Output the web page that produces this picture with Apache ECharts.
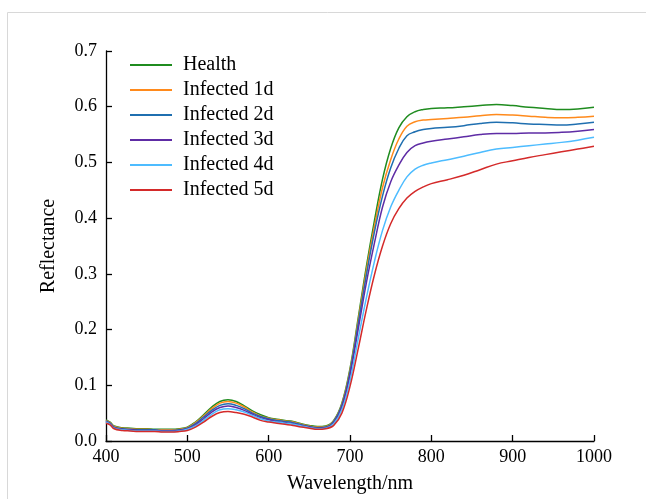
<!DOCTYPE html>
<html>
<head>
<meta charset="utf-8">
<script src="https://cdn.jsdelivr.net/npm/echarts@6/dist/echarts.min.js"></script>
<style>html,body{margin:0;padding:0;background:#fff;}#c{width:646px;height:499px;}</style>
</head>
<body>
<div id="c"></div>
<script>
const wavelengths = [400,405,410,420,430,440,450,460,470,480,490,500,510,520,530,540,550,560,570,580,590,600,610,620,630,640,650,660,670,680,690,700,710,720,730,740,750,760,770,780,790,800,820,840,860,880,900,920,940,960,980,1000];
const health = [.038,.034,.027,.024,.023,.022,.022,.021,.021,.021,.022,.025,.034,.047,.061,.071,.074,.071,.063,.054,.047,.042,.039,.037,.035,.031,.028,.026,.027,.037,.068,.130,.220,.312,.395,.470,.525,.562,.582,.591,.595,.597,.598,.600,.602,.604,.602,.599,.597,.595,.596,.599];
const inf1 = [.037,.033,.026,.023,.022,.021,.021,.020,.020,.020,.021,.024,.033,.045,.058,.068,.071,.068,.061,.052,.045,.041,.038,.036,.034,.030,.027,.025,.026,.036,.066,.127,.215,.305,.385,.455,.505,.542,.565,.573,.576,.577,.579,.581,.584,.586,.585,.583,.581,.580,.581,.583];
const inf2 = [.036,.032,.025,.022,.021,.020,.020,.020,.019,.019,.020,.023,.031,.043,.055,.064,.067,.064,.058,.050,.044,.040,.037,.035,.033,.029,.026,.024,.025,.035,.064,.124,.210,.297,.375,.440,.490,.525,.548,.555,.559,.561,.563,.566,.570,.572,.571,.569,.568,.567,.569,.572];
const inf3 = [.035,.031,.024,.021,.020,.019,.019,.019,.018,.018,.019,.022,.029,.040,.052,.060,.063,.060,.055,.048,.042,.038,.035,.033,.031,.028,.025,.023,.024,.033,.061,.118,.200,.283,.355,.420,.465,.495,.518,.530,.535,.538,.542,.546,.550,.552,.552,.553,.553,.554,.556,.559];
const inf4 = [.034,.030,.023,.020,.019,.018,.018,.018,.017,.017,.018,.021,.027,.037,.048,.056,.058,.056,.052,.046,.040,.036,.034,.032,.030,.027,.024,.022,.023,.031,.056,.108,.183,.256,.322,.378,.420,.450,.474,.488,.495,.499,.505,.511,.518,.524,.527,.530,.533,.536,.540,.545];
const inf5 = [.032,.029,.022,.019,.018,.017,.017,.017,.016,.016,.017,.019,.025,.034,.044,.051,.053,.051,.048,.043,.037,.034,.032,.030,.028,.025,.023,.021,.022,.028,.050,.098,.165,.235,.298,.350,.390,.417,.436,.448,.456,.462,.469,.477,.487,.497,.503,.509,.514,.519,.524,.529];
const seriesNames = ['Health','Infected 1d','Infected 2d','Infected 3d','Infected 4d','Infected 5d'];
const seriesData = [health, inf1, inf2, inf3, inf4, inf5];
const colors = ['#1f8c1f','#ff8a1c','#1f6fb0','#5e2ca5','#4dbcff','#d42a2a'];
const xTicks = [400,500,600,700,800,900,1000];
const yTicks = [0,0.1,0.2,0.3,0.4,0.5,0.6,0.7];

const font = 'Liberation Serif';
const chart = echarts.init(document.getElementById('c'));
chart.setOption({
  animation: false,
  backgroundColor: '#fff',
  color: colors,
  graphic: [{type:'rect', left:5, top:10, shape:{width:700, height:600}, style:{fill:'none', stroke:'#d8d8d8', lineWidth:1}, silent:true}],
  grid: {left:106, right:52, top:51, bottom:54},
  legend: {
    orient:'vertical', left:125, top:50, itemWidth:42, itemHeight:2, itemGap:5, icon:'rect',
    textStyle:{fontFamily:font, fontSize:20, color:'#000', padding:[0,0,0,6]},
    data: seriesNames
  },
  xAxis: {
    type:'value', min:xTicks[0], max:xTicks[xTicks.length-1], interval:100,
    name:'Wavelength/nm', nameLocation:'middle', nameGap:33,
    nameTextStyle:{fontFamily:font, fontSize:20, color:'#000'},
    axisLine:{lineStyle:{color:'#000', width:1.3}},
    axisTick:{inside:true, length:6, lineStyle:{color:'#000', width:1.3}},
    axisLabel:{fontFamily:font, fontSize:18, color:'#000', margin:7, formatter:v=>String(v)},
    splitLine:{show:false}
  },
  yAxis: {
    type:'value', min:0, max:0.7, interval:0.1,
    name:'Reflectance', nameLocation:'middle', nameGap:47,
    nameTextStyle:{fontFamily:font, fontSize:20, color:'#000'},
    axisLine:{show:true, lineStyle:{color:'#000', width:1.3}},
    axisTick:{show:true, inside:true, length:6, lineStyle:{color:'#000', width:1.3}},
    axisLabel:{fontFamily:font, fontSize:18, color:'#000', margin:9, formatter:v=>v.toFixed(1)},
    splitLine:{show:false}
  },
  series: seriesNames.map((n,i)=>({
    name:n, type:'line', smooth:0.4, symbol:'none',
    lineStyle:{width:1.5, color:colors[i]},
    data: wavelengths.map((w,j)=>[w, seriesData[i][j]])
  }))
});
</script>
</body>
</html>
